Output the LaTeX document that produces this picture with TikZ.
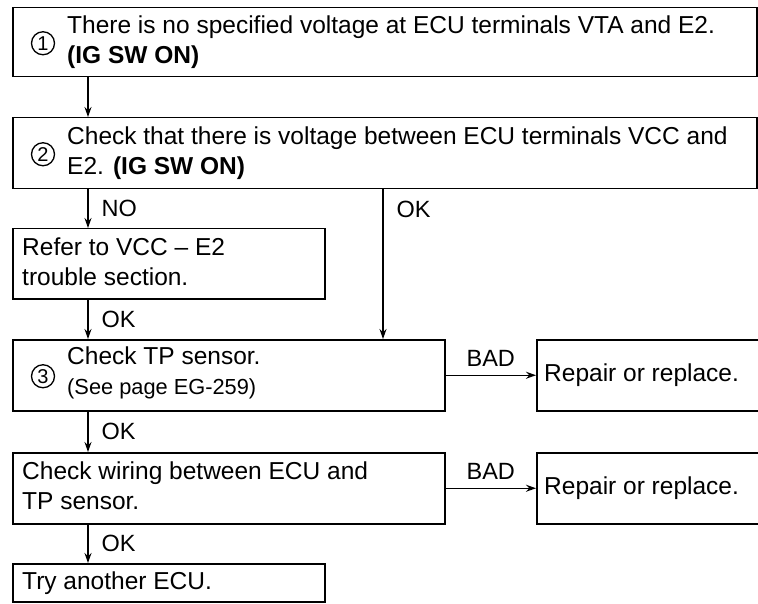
\documentclass[tikz,border=0pt]{standalone}
\usepackage{fontspec}
\setmainfont{Liberation Sans}
\usetikzlibrary{arrows.meta}
\begin{document}
\begin{tikzpicture}[x=1pt,y=-1pt,
  box/.style={draw, line width=1.5pt, rectangle, anchor=north west, inner sep=0pt},
  txt/.style={anchor=west, align=left, inner sep=0pt, text depth=5pt, font=\fontsize{24.5}{30}\selectfont},
  num/.style={circle, draw, line width=1.3pt, minimum size=23pt, inner sep=0pt, font=\fontsize{20}{20}\selectfont},
  conn/.style={line width=1.3pt, -{Stealth[length=10pt,width=7pt]}},
  lbl/.style={font=\fontsize{23.5}{28}\selectfont, inner sep=0pt}
]
\fill[white] (0,0) rectangle (758,604);
\useasboundingbox (0,0) rectangle (758,604);

% boxes
\node[box, minimum width=744pt, minimum height=69pt] (b1) at (12,7) {};
\node[box, minimum width=744pt, minimum height=71pt] (b2) at (12,117) {};
\node[box, minimum width=312pt, minimum height=70pt] (bref) at (12,228) {};
\node[box, minimum width=432pt, minimum height=71pt] (b3) at (12,339) {};
\node[box, minimum width=226pt, minimum height=71pt] (r1) at (536,339) {};
\node[box, minimum width=432pt, minimum height=71pt] (bw) at (12,452) {};
\node[box, minimum width=226pt, minimum height=71pt] (r2) at (536,452) {};
\node[box, minimum width=312pt, minimum height=38pt] (bt) at (12,563) {};

% circled numbers
\node[num] (n1) at ([xshift=31pt,yshift=-1pt]b1.west) {1};
\node[num] (n2) at ([xshift=31pt,yshift=-1pt]b2.west) {2};
\node[num] (n3) at ([xshift=31pt,yshift=-1pt]b3.west) {3};

% texts
\node[txt] (t1) at ([xshift=55pt]b1.west) {There is no specified voltage at ECU terminals VTA and E2.\\\textbf{(IG SW ON)}};
\node[txt] (t2) at ([xshift=55pt]b2.west) {Check that there is voltage between ECU terminals VCC and\\E2. \textbf{(IG SW ON)}};
\node[txt] (tref) at ([xshift=10pt]bref.west) {Refer to VCC -- E2\\trouble section.};
\node[txt] (t3) at ([xshift=55pt,yshift=2pt]b3.west) {Check TP sensor.\\{\fontsize{21.8}{30}\selectfont (See page EG-259)}};
\node[txt] (tr1) at ([xshift=8pt]r1.west) {Repair or replace.};
\node[txt] (tw) at ([xshift=10pt]bw.west) {Check wiring between ECU and\\TP sensor.};
\node[txt] (tr2) at ([xshift=8pt]r2.west) {Repair or replace.};
\node[txt] (tt) at ([xshift=10pt]bt.west) {Try another ECU.};

% connectors
\draw[conn] ([xshift=76pt]b1.south west) -- ([xshift=76pt]b2.north west);
\draw[conn] ([xshift=76pt]b2.south west) -- node[lbl, anchor=west, xshift=13pt] (lno) {NO} ([xshift=76pt]bref.north west);
\draw[conn] ([xshift=371pt]b2.south west) -- node[lbl, pos=0.13, anchor=west, xshift=13pt] (lok1) {OK} ([xshift=371pt]b3.north west);
\draw[conn] ([xshift=76pt]bref.south west) -- node[lbl, anchor=west, xshift=13pt] (lok2) {OK} ([xshift=76pt]b3.north west);
\draw[conn] (b3.east) -- node[lbl, anchor=south, yshift=8pt] (lbad1) {BAD} (r1.west);
\draw[conn] ([xshift=76pt]b3.south west) -- node[lbl, anchor=west, xshift=13pt] (lok3) {OK} ([xshift=76pt]bw.north west);
\draw[conn] (bw.east) -- node[lbl, anchor=south, yshift=8pt] (lbad2) {BAD} (r2.west);
\draw[conn] ([xshift=76pt]bw.south west) -- node[lbl, anchor=west, xshift=13pt] (lok4) {OK} ([xshift=76pt]bt.north west);
\end{tikzpicture}
\end{document}
